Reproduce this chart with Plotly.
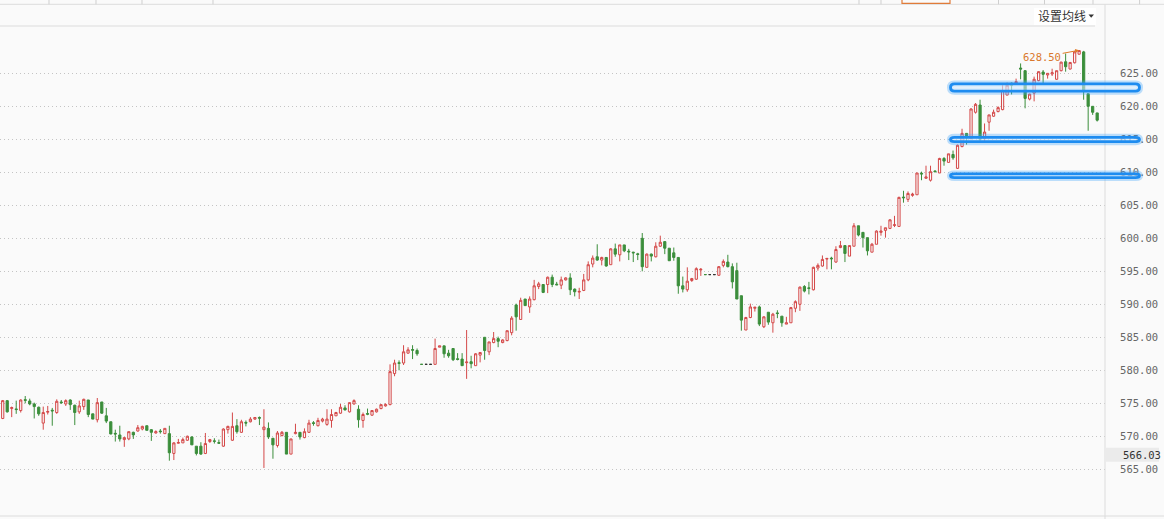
import plotly.graph_objects as go

# ---------------- data ----------------
opens = [
    572.7, 575.4, 574.2, 574.15, 573.9, 575.55, 575.35, 574.9, 574.4, 572.0,
    573.65, 573.95, 573.6, 575.2, 574.9, 575.5, 574.7, 573.7, 574.5, 575.5,
    573.4, 572.5, 575.2, 573.1, 572.2, 570.45, 570.2, 569.5, 569.6, 570.6,
    570.8, 571.1, 571.6, 571.0, 570.5, 570.8, 570.4, 570.4, 567.4, 568.95,
    569.0, 569.4, 569.9, 568.5, 568.5, 567.4, 569.2, 569.3, 569.05, 568.5,
    571.0, 569.4, 571.6, 570.6, 572.1, 572.2, 572.6, 572.85, 571.0, 571.2,
    569.7, 568.6, 570.1, 570.6, 567.3, 570.4, 570.6, 569.8, 570.6, 572.05,
    571.6, 572.3, 571.8, 572.4, 573.1, 573.5, 574.3, 573.7, 574.9, 574.1,
    572.4, 573.45, 573.2, 573.7, 574.2, 574.6, 574.8, 579.5, 581.15, 581.1,
    582.6, 583.15, 583.0, 580.9, 580.9, 580.9, 580.9, 583.5, 583.7, 582.6,
    583.3, 581.75, 581.7, 581.15, 581.3, 580.7, 582.3, 585.0, 582.8, 584.2,
    584.8, 584.2, 584.5, 585.7, 589.9, 587.7, 590.8, 589.6, 590.7, 592.7,
    593.0, 593.0, 594.1, 593.05, 592.9, 593.7, 594.0, 592.3, 591.85, 592.1,
    593.7, 596.1, 597.2, 596.7, 597.1, 596.0, 598.4, 597.5, 599.0, 598.05,
    597.9, 597.65, 600.0, 595.6, 597.6, 597.2, 598.8, 599.5, 598.5, 597.8,
    597.1, 592.8, 592.2, 593.6, 593.8, 595.2, 594.5, 594.5, 594.5, 594.4,
    595.9, 596.4, 595.7, 595.1, 591.3, 586.1, 588.0, 589.4, 589.6, 586.6,
    588.8, 587.2, 588.7, 588.2, 587.0, 587.2, 589.4, 590.0, 592.7, 592.5,
    592.2, 595.5, 595.8, 596.85, 597.0, 596.4, 598.6, 598.9, 597.3, 598.8,
    601.9, 600.9, 600.1, 597.9, 599.1, 600.9, 601.2, 601.5, 601.95, 601.8,
    606.25, 605.9, 606.5, 606.6, 609.85, 609.1, 608.8, 610.2, 609.9, 612.1,
    611.5, 612.7, 610.6, 613.9, 615.9, 615.1, 619.1, 620.2, 615.1, 617.6,
    618.5, 619.2, 619.5, 621.7, 623.5, 623.4, 625.8, 625.4, 621.1, 622.0,
    623.9, 625.2, 624.75, 624.9, 624.1, 625.4, 626.75, 625.65, 626.6, 627.9,
    628.25, 621.9, 620.0, 619.0,
]
highs = [
    575.5, 575.5, 574.5, 575.4, 575.6, 576.1, 575.7, 575.1, 574.5, 574.5,
    574.6, 574.3, 575.6, 575.5, 575.6, 575.6, 574.8, 575.4, 575.7, 575.5,
    573.4, 575.8, 575.2, 574.3, 572.2, 571.0, 571.6, 569.9, 570.7, 570.7,
    571.7, 571.6, 571.6, 571.1, 570.9, 571.1, 571.2, 571.6, 569.1, 569.6,
    569.8, 570.1, 570.0, 568.5, 569.1, 570.5, 569.6, 569.7, 569.5, 571.2,
    571.6, 573.6, 572.6, 572.5, 572.4, 572.9, 572.9, 573.0, 574.1, 572.1,
    569.7, 570.8, 570.8, 570.6, 569.6, 571.9, 570.6, 571.2, 572.5, 572.3,
    572.8, 572.8, 574.1, 574.1, 573.7, 574.9, 574.7, 575.1, 575.6, 574.7,
    573.6, 574.2, 573.9, 574.2, 574.8, 575.0, 580.9, 581.6, 581.5, 583.8,
    583.5, 583.8, 583.3, 580.9, 580.9, 580.9, 584.8, 583.7, 583.7, 583.1,
    583.3, 582.6, 582.6, 586.1, 582.2, 582.6, 582.7, 585.0, 584.3, 585.8,
    585.1, 584.7, 586.0, 588.2, 590.1, 591.0, 590.8, 591.2, 593.7, 593.4,
    593.0, 594.2, 594.5, 593.4, 594.2, 594.1, 594.7, 592.4, 592.5, 594.6,
    596.5, 597.4, 599.1, 597.2, 597.1, 598.5, 599.2, 599.0, 599.0, 598.4,
    597.95, 597.8, 600.8, 597.7, 597.7, 599.4, 600.4, 599.5, 598.5, 598.6,
    597.1, 594.2, 595.6, 594.0, 595.6, 595.5, 594.5, 594.5, 594.5, 595.8,
    596.8, 597.5, 596.2, 596.3, 591.3, 588.1, 590.1, 589.6, 589.8, 588.2,
    588.8, 588.7, 589.1, 588.2, 588.1, 589.6, 590.6, 592.7, 592.9, 593.4,
    595.7, 596.2, 597.4, 597.0, 597.2, 598.8, 599.6, 598.9, 598.9, 602.3,
    601.9, 600.9, 600.1, 599.3, 601.2, 601.9, 601.6, 602.9, 603.4, 606.3,
    607.2, 607.1, 606.9, 609.9, 610.1, 611.0, 611.0, 610.3, 612.2, 612.3,
    612.8, 613.3, 614.2, 616.6, 615.9, 619.7, 620.5, 621.0, 617.4, 618.7,
    619.5, 620.0, 623.2, 623.6, 623.6, 624.2, 626.5, 625.5, 621.9, 624.5,
    625.3, 625.5, 625.0, 625.7, 625.4, 626.75, 628.0, 626.7, 628.4, 628.5,
    628.4, 621.9, 620.0, 619.0,
]
lows = [
    572.6, 573.6, 572.9, 573.4, 573.6, 575.0, 574.7, 572.7, 573.1, 571.0,
    573.3, 571.6, 573.4, 574.9, 574.6, 574.0, 571.7, 573.4, 574.0, 572.9,
    572.6, 572.1, 573.4, 572.0, 570.3, 569.2, 569.2, 568.4, 569.4, 569.6,
    570.7, 570.9, 570.9, 569.3, 570.4, 570.4, 570.4, 566.3, 566.4, 568.9,
    569.0, 569.3, 568.7, 567.1, 567.2, 567.3, 569.0, 568.9, 568.9, 568.4,
    570.4, 569.3, 570.4, 570.5, 571.5, 572.1, 572.5, 571.7, 565.2, 569.6,
    566.6, 568.3, 570.0, 567.3, 567.3, 570.3, 569.5, 569.7, 570.5, 571.6,
    571.5, 572.1, 571.6, 571.3, 573.1, 573.4, 573.9, 573.6, 574.8, 571.3,
    571.3, 573.2, 573.1, 573.6, 574.1, 574.5, 574.7, 579.1, 580.0, 580.8,
    582.5, 581.7, 582.2, 580.9, 580.9, 580.9, 580.9, 583.5, 581.9, 581.9,
    581.4, 581.5, 580.7, 578.7, 580.3, 580.7, 581.2, 581.6, 582.3, 584.1,
    583.5, 584.1, 584.4, 585.3, 586.0, 587.7, 589.8, 588.7, 590.6, 592.3,
    591.7, 591.7, 592.6, 592.95, 592.3, 593.6, 591.4, 591.2, 590.8, 592.0,
    593.5, 595.6, 596.6, 595.9, 595.7, 596.0, 597.2, 596.5, 597.9, 596.7,
    596.4, 596.7, 595.0, 595.6, 596.5, 597.1, 598.7, 597.6, 596.6, 596.6,
    591.6, 591.8, 591.9, 593.4, 593.7, 594.3, 594.5, 594.5, 594.5, 594.3,
    595.6, 595.6, 592.4, 590.8, 586.0, 586.1, 587.9, 588.9, 586.7, 586.4,
    586.9, 585.7, 587.9, 586.6, 587.0, 587.2, 588.8, 589.0, 591.8, 591.5,
    592.1, 595.1, 595.7, 595.3, 595.3, 596.3, 598.5, 596.4, 597.3, 598.8,
    600.3, 598.6, 597.4, 597.9, 599.1, 600.4, 600.1, 601.4, 601.7, 601.8,
    605.4, 605.5, 606.3, 606.6, 608.8, 609.0, 608.6, 610.0, 609.9, 611.0,
    611.5, 611.9, 610.5, 613.8, 614.2, 615.0, 618.9, 614.6, 614.6, 616.3,
    618.4, 619.1, 619.4, 621.7, 621.8, 623.3, 624.1, 619.7, 620.9, 620.75,
    623.8, 623.4, 624.2, 624.6, 624.0, 625.3, 625.25, 625.6, 626.5, 627.85,
    621.0, 616.3, 618.7, 617.7,
]
closes = [
    575.4, 573.7, 574.35, 574.05, 575.5, 575.45, 574.9, 574.5, 573.4, 573.6,
    573.75, 573.85, 575.3, 575.1, 575.4, 574.8, 573.6, 574.6, 575.6, 573.3,
    572.6, 575.1, 573.5, 572.3, 570.35, 570.35, 569.6, 569.8, 570.7, 570.2,
    571.3, 571.5, 570.9, 570.6, 570.7, 570.7, 571.2, 567.5, 569.0, 569.05,
    569.5, 570.0, 568.7, 567.4, 567.3, 568.9, 569.5, 569.25, 568.95, 571.1,
    571.5, 571.5, 570.7, 572.2, 572.0, 572.6, 572.85, 572.75, 571.4, 569.9,
    568.7, 570.5, 570.6, 567.3, 569.6, 570.6, 569.9, 570.7, 572.0, 571.95,
    572.4, 572.6, 572.6, 573.3, 573.6, 574.4, 574.0, 575.1, 575.4, 572.5,
    573.3, 573.35, 573.9, 574.1, 574.8, 574.8, 579.8, 581.1, 581.05, 582.8,
    583.1, 583.05, 582.5, 580.9, 580.9, 580.9, 583.3, 583.7, 582.5, 582.2,
    581.6, 581.65, 580.7, 581.25, 581.0, 582.5, 582.7, 583.0, 584.3, 584.8,
    584.4, 584.6, 586.0, 587.9, 588.1, 590.6, 589.8, 590.8, 592.8, 593.1,
    591.8, 594.1, 593.0, 592.95, 593.7, 594.0, 592.2, 591.9, 591.95, 593.7,
    596.0, 597.0, 596.7, 597.1, 595.8, 598.4, 597.6, 599.0, 598.1, 597.95,
    597.8, 597.55, 595.7, 597.6, 597.3, 598.8, 599.4, 598.5, 596.6, 597.1,
    592.8, 592.3, 593.5, 593.9, 595.4, 595.3, 594.5, 594.5, 594.5, 595.7,
    596.5, 595.7, 593.4, 590.8, 587.6, 588.0, 589.6, 589.55, 587.0, 588.1,
    587.3, 588.5, 588.6, 587.2, 587.2, 589.5, 590.4, 592.6, 592.0, 592.4,
    595.6, 595.9, 596.8, 596.95, 596.9, 598.3, 598.9, 597.7, 598.9, 601.9,
    600.5, 600.1, 598.1, 599.1, 601.1, 601.1, 601.6, 602.8, 602.05, 606.2,
    606.15, 606.8, 606.7, 609.9, 609.75, 609.3, 610.1, 610.1, 612.1, 611.7,
    612.8, 612.2, 614.1, 615.9, 615.5, 619.6, 620.3, 615.0, 616.1, 618.7,
    619.1, 619.8, 622.4, 623.2, 623.2, 623.75, 625.65, 621.2, 621.85, 624.1,
    625.25, 624.85, 625.0, 625.1, 625.4, 626.7, 626.0, 626.65, 628.25, 628.45,
    622.25, 620.0, 619.1, 617.9,
]

tick_values = [565, 570, 575, 580, 585, 590, 595, 600, 605, 610, 615, 620, 625]
high_label = "628.50"
cursor_label = "566.03"
menu_label = "设置均线"
# user-drawn horizontal highlight bands (price bounds)
band_lows = [622.3, 614.65, 609.2]
band_highs = [623.4, 615.3, 609.75]

# ---------------- layout geometry ----------------
W, H = 1164, 519
ML, MR, MT, MB = 0, 59, 27, 3
PW = W - ML - MR
PH = H - MT - MB


def px(xp):
    return (xp - ML) / PW


def py(yp):
    return (H - MB - yp) / PH


RED = "#d44848"
GREEN = "#3b8e3b"
BG = "#fafafa"

n = len(opens)
xs = list(range(1, n + 1))

normal = [i for i in range(n) if not (opens[i] == highs[i] == lows[i] == closes[i])]
flat = [i for i in range(n) if opens[i] == highs[i] == lows[i] == closes[i]]
flat_down = [i for i in flat if i > 0 and closes[i] < closes[i - 1]]
flat_same = [i for i in flat if i not in flat_down]

fig = go.Figure()
fig.add_trace(go.Candlestick(
    x=[xs[i] for i in normal],
    open=[opens[i] for i in normal], high=[highs[i] for i in normal],
    low=[lows[i] for i in normal], close=[closes[i] for i in normal],
    increasing=dict(line=dict(color=RED, width=1), fillcolor=BG),
    decreasing=dict(line=dict(color=GREEN, width=1), fillcolor=GREEN),
    whiskerwidth=0, showlegend=False, hoverinfo="skip",
))
for idxs, col in ((flat_down, GREEN), (flat_same, "#333333")):
    if idxs:
        fig.add_trace(go.Candlestick(
            x=[xs[i] for i in idxs],
            open=[opens[i] for i in idxs], high=[highs[i] for i in idxs],
            low=[lows[i] for i in idxs], close=[closes[i] for i in idxs],
            increasing=dict(line=dict(color=col, width=1), fillcolor=col),
            decreasing=dict(line=dict(color=col, width=1), fillcolor=col),
            whiskerwidth=0, showlegend=False, hoverinfo="skip",
        ))

shapes = []
LINE = "#dcdcdc"
# top tab strip
shapes.append(dict(type="line", xref="paper", yref="paper", x0=px(0), x1=px(W),
                   y0=py(4.3), y1=py(4.3), line=dict(color=LINE, width=1)))
for xv in [49, 96, 142, 213, 859, 881, 998.5, 1044.5, 1093, 1139.6]:
    shapes.append(dict(type="line", xref="paper", yref="paper", x0=px(xv), x1=px(xv),
                       y0=py(0), y1=py(4.3), line=dict(color="#cfcfcf", width=1)))
shapes.append(dict(type="rect", xref="paper", yref="paper", x0=px(902), x1=px(950),
                   y0=py(3.3), y1=py(-2), line=dict(color="#e07b39", width=1.2)))
# header line
shapes.append(dict(type="line", xref="paper", yref="paper", x0=px(0), x1=px(1095),
                   y0=py(26), y1=py(26), line=dict(color="#e6e6e6", width=1.5)))
# right separator and bottom line
shapes.append(dict(type="line", xref="paper", yref="paper", x0=px(1105), x1=px(1105),
                   y0=py(4.3), y1=py(H), line=dict(color=LINE, width=1)))
shapes.append(dict(type="line", xref="paper", yref="paper", x0=px(0), x1=px(W),
                   y0=py(516), y1=py(516), line=dict(color=LINE, width=1)))
# menu box + caret
shapes.append(dict(type="rect", xref="paper", yref="paper", x0=px(1034), x1=px(1096),
                   y0=py(25), y1=py(8), fillcolor="#ffffff", line=dict(width=0), layer="below"))
shapes.append(dict(type="path", xref="paper", yref="paper",
                   path=f"M {px(1088.5)},{py(14.5)} L {px(1094)},{py(14.5)} L {px(1091.2)},{py(17.8)} Z",
                   fillcolor="#333333", line=dict(width=0)))
# cursor price box
shapes.append(dict(type="rect", xref="paper", yref="paper", x0=px(1106), x1=px(1159),
                   y0=py(461.7), y1=py(447.7), fillcolor="#ebebeb", line=dict(width=0)))


def stadium(x0, x1, ylo, yhi, rx):
    ym = (ylo + yhi) / 2
    return (f"M {x0 + rx},{yhi} L {x1 - rx},{yhi} Q {x1},{yhi} {x1},{ym} "
            f"Q {x1},{ylo} {x1 - rx},{ylo} L {x0 + rx},{ylo} Q {x0},{ylo} {x0},{ym} "
            f"Q {x0},{yhi} {x0 + rx},{yhi} Z")


for lo, hi in zip(band_lows, band_highs):
    path = stadium(px(950.5), px(1139.5), lo, hi, px(4))
    shapes.append(dict(type="path", xref="paper", yref="y", path=path,
                       line=dict(color="rgba(70,165,250,0.35)", width=7), layer="above"))
    shapes.append(dict(type="path", xref="paper", yref="y", path=path,
                       fillcolor="rgba(255,255,255,0.45)",
                       line=dict(color="#1e8cf0", width=2.8), layer="above"))

annotations = [
    dict(x=240, y=highs[239], xref="x", yref="y", text=high_label, showarrow=True,
         ax=-37, ay=7, arrowcolor="#e07b28", arrowwidth=1, arrowhead=2, arrowsize=0.8,
         font=dict(family="DejaVu Sans Mono", size=10.5, color="#d9782c")),
    dict(x=px(1120.5), y=py(454.7), xref="paper", yref="paper", xanchor="left",
         yanchor="middle", text=cursor_label, showarrow=False,
         font=dict(family="DejaVu Sans Mono", size=10.5, color="#333333")),
    dict(x=px(1036), y=py(16), xref="paper", yref="paper", xanchor="left",
         yanchor="middle", text=menu_label, showarrow=False,
         font=dict(family="Noto Sans CJK SC", size=12, color="#333333")),
]

fig.update_layout(
    width=W, height=H,
    margin=dict(l=ML, r=MR, t=MT, b=MB, pad=0),
    paper_bgcolor=BG, plot_bgcolor=BG,
    showlegend=False,
    xaxis=dict(visible=False, range=[0.4, 245.74], rangeslider=dict(visible=False),
               fixedrange=True),
    yaxis=dict(side="right", range=[557.92, 632.02], tickvals=tick_values,
               ticktext=[f"{v:.2f}" for v in tick_values],
               tickfont=dict(family="DejaVu Sans Mono", size=10.5, color="#666666"),
               ticks="outside", ticklen=12, tickcolor="rgba(0,0,0,0)",
               showgrid=True, gridcolor="#c4c4c4", griddash="1px,3px", gridwidth=1,
               zeroline=False, showline=False, fixedrange=True),
    shapes=shapes,
    annotations=annotations,
)

fig.write_html(
    "out.html",
    config={"displayModeBar": False, "staticPlot": True},
    post_script="document.body.style.margin='0';document.body.style.overflow='hidden';"
                "document.body.style.background='#fafafa';",
)
